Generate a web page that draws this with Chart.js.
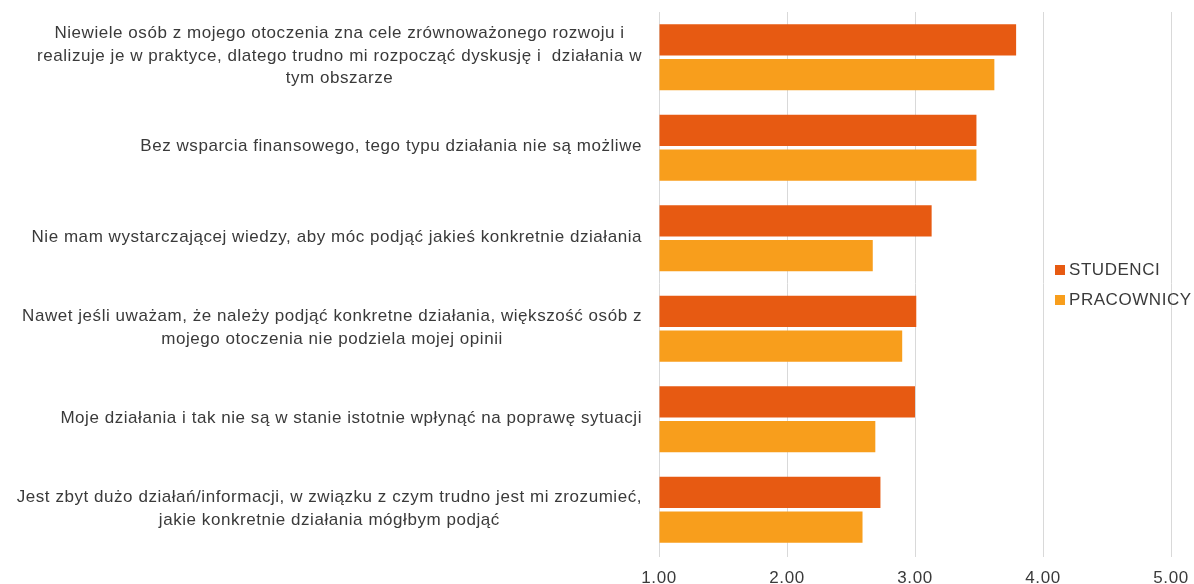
<!DOCTYPE html>
<html>
<head>
<meta charset="utf-8">
<script src="https://cdn.jsdelivr.net/npm/chart.js@4"></script>
<style>
  html, body { margin: 0; padding: 0; background: #fff; }
  #wrap { width: 1194px; height: 584px; }
</style>
</head>
<body>
<div id="wrap"><canvas id="barChart" width="1194" height="584"></canvas></div>
<script>
const categories = [
  ["Niewiele osób z mojego otoczenia zna cele zrównoważonego rozwoju i",
   "realizuje je w praktyce, dlatego trudno mi rozpocząć dyskusję i  działania w",
   "tym obszarze"],
  ["Bez wsparcia finansowego, tego typu działania nie są możliwe"],
  ["Nie mam wystarczającej wiedzy, aby móc podjąć jakieś konkretnie działania"],
  ["Nawet jeśli uważam, że należy podjąć konkretne działania, większość osób z",
   "mojego otoczenia nie podziela mojej opinii"],
  ["Moje działania i tak nie są w stanie istotnie wpłynąć na poprawę sytuacji"],
  ["Jest zbyt dużo działań/informacji, w związku z czym trudno jest mi zrozumieć,",
   "jakie konkretnie działania mógłbym podjąć"]
];
const seriesNames = ["STUDENCI", "PRACOWNICY"];
const studenci = [3.79, 3.48, 3.13, 3.01, 3.00, 2.73];
const pracownicy = [3.62, 3.48, 2.67, 2.90, 2.69, 2.59];
const xMin = 1;
const xMax = 5;

const fontFamily = '"Liberation Sans", Arial, sans-serif';
const fontSize = 17;
const textColor = "#3a3a3a";
const spacing = "0.55px";

// the reference text is set a bit looser than Arial
const looseText = {
  id: "looseText",
  beforeLayout(chart) { chart.ctx.letterSpacing = spacing; },
  beforeDraw(chart) { chart.ctx.letterSpacing = spacing; }
};

// draws the category labels: lines centred in a block, block right-aligned
const categoryLabels = {
  id: "categoryLabels",
  afterDraw(chart) {
    const ctx = chart.ctx;
    const yScale = chart.scales.y;
    const right = chart.chartArea.left - 17;
    const lineH = 22.5;
    ctx.save();
    ctx.letterSpacing = spacing;
    ctx.font = fontSize + "px " + fontFamily;
    ctx.fillStyle = textColor;
    ctx.textAlign = "center";
    ctx.textBaseline = "middle";
    categories.forEach((lines, i) => {
      const y = yScale.getPixelForTick(i);
      const maxW = Math.max(...lines.map(l => ctx.measureText(l).width));
      const cx = right - maxW / 2;
      const y0 = y - 1 - (lines.length - 1) * lineH / 2;
      lines.forEach((l, j) => ctx.fillText(l, cx, y0 + j * lineH));
    });
    ctx.restore();
  }
};

// legend sitting inside the plot on the right
const sideLegend = {
  id: "sideLegend",
  afterDraw(chart) {
    const ctx = chart.ctx;
    ctx.save();
    ctx.letterSpacing = spacing;
    ctx.font = fontSize + "px " + fontFamily;
    ctx.textBaseline = "middle";
    ctx.textAlign = "left";
    chart.data.datasets.forEach((ds, i) => {
      const y = 270 + i * 30;
      ctx.fillStyle = ds.backgroundColor;
      ctx.fillRect(1055, y - 5, 10, 10);
      ctx.fillStyle = textColor;
      ctx.fillText(ds.label, 1069, y);
    });
    ctx.restore();
  }
};

const ctx = document.getElementById("barChart").getContext("2d");
const chart = new Chart(ctx, {
  type: "bar",
  data: {
    labels: categories,
    datasets: [
      { label: seriesNames[0], data: studenci, backgroundColor: "#E75A12" },
      { label: seriesNames[1], data: pracownicy, backgroundColor: "#F89E1C" }
    ]
  },
  options: {
    indexAxis: "y",
    responsive: false,
    animation: false,
    layout: { padding: { top: 12, right: 23, left: 0, bottom: 0 } },
    datasets: {
      bar: { categoryPercentage: 0.77, barPercentage: 0.9, base: xMin }
    },
    plugins: {
      legend: { display: false },
      tooltip: { enabled: false }
    },
    scales: {
      x: {
        min: xMin,
        max: xMax,
        ticks: {
          stepSize: 1,
          padding: 11,
          color: textColor,
          font: { family: fontFamily, size: fontSize },
          callback: v => Number(v).toFixed(2)
        },
        grid: { color: "#d9d9d9", lineWidth: 1, drawTicks: true, tickLength: 2 },
        border: { display: false },
        afterFit(s) {
          s.height = 29;
          s.paddingLeft = 0;
          s.paddingRight = 0;
        }
      },
      y: {
        ticks: { color: "transparent", font: { size: 1 } },
        grid: { display: false },
        border: { display: false },
        afterFit(s) { s.width = 659; }
      }
    }
  },
  plugins: [looseText, categoryLabels, sideLegend]
});
</script>
</body>
</html>
